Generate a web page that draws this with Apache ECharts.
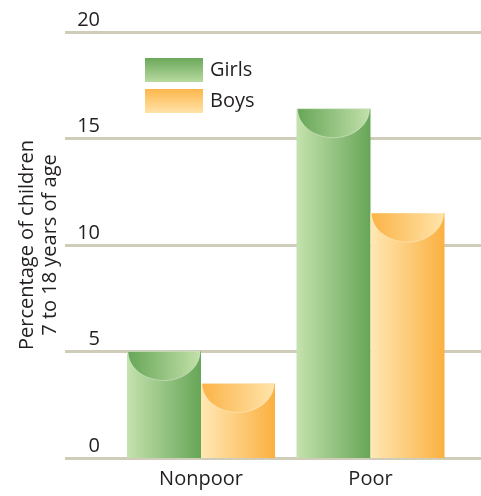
<!DOCTYPE html>
<html>
<head>
<meta charset="utf-8">
<script src="https://cdn.jsdelivr.net/npm/echarts@6/dist/echarts.min.js"></script>
<style>html,body{margin:0;padding:0;background:#fff}#c{width:481px;height:496px}</style>
</head>
<body>
<div id="c"></div>
<script>
const categories = ['Nonpoor', 'Poor'];
const girls = [5.0, 16.4];
const boys = [3.5, 11.5];
const yTicks = [0, 5, 10, 15, 20];
const yTitle = 'Percentage of children\n7 to 18 years of age';

const FONT = 'Open Sans';
const FS = 20;
const TXT = '#231f20';
const BARW = 74;

function hGrad(a, b) {
  return new echarts.graphic.LinearGradient(0, 0, 1, 0, [{offset: 0, color: a}, {offset: 1, color: b}]);
}
function vGrad(a, b) {
  return new echarts.graphic.LinearGradient(0, 0, 0, 1, [{offset: 0, color: a}, {offset: 1, color: b}]);
}

function capRenderer(offset, cL, cR) {
  return function (params, api) {
    const top = api.coord([api.value(0), api.value(1)]);
    const cx = top[0] + offset;
    const rx = BARW / 2 - 1;
    const ry = 29;
    const pts = [];
    for (let i = 0; i <= 40; i++) {
      const t = Math.PI * i / 40;
      pts.push([cx + rx * Math.cos(t), top[1] + ry * Math.sin(t)]);
    }
    return {
      type: 'polygon',
      shape: {points: pts},
      style: {fill: hGrad(cL, cR), stroke: 'rgba(255,255,255,0.35)', lineWidth: 1}
    };
  };
}

const chart = echarts.init(document.getElementById('c'), null, {renderer: 'canvas'});
chart.setOption({
  animation: false,
  backgroundColor: '#fff',
  textStyle: {fontFamily: FONT},
  legend: {
    left: 140, top: 53, orient: 'vertical',
    itemWidth: 58, itemHeight: 24, itemGap: 7,
    icon: 'rect',
    textStyle: {fontFamily: FONT, fontSize: FS, color: TXT, padding: [0, 0, 0, 2]},
    data: [
      {name: 'Girls', itemStyle: {color: vGrad('#6aa85a', '#b8daa0')}},
      {name: 'Boys', itemStyle: {color: vGrad('#fdb64c', '#ffe3a8')}}
    ]
  },
  grid: [
    {left: 65, right: 0, top: 32, bottom: 38},
    {left: 116.25, right: 25.75, top: 32, bottom: 38}
  ],
  xAxis: [
    {gridIndex: 0, type: 'category', data: categories, show: false},
    {
      gridIndex: 1, type: 'category', data: categories,
      axisLine: {show: false}, axisTick: {show: false},
      axisLabel: {fontFamily: FONT, fontSize: FS, color: TXT, margin: 11}
    }
  ],
  yAxis: [
    {
      gridIndex: 0, type: 'value', min: yTicks[0], max: yTicks[yTicks.length - 1], interval: 5,
      axisLine: {show: false}, axisTick: {show: false},
      splitLine: {show: true, lineStyle: {color: '#cfcdba', width: 3}},
      axisLabel: {
        inside: true, margin: 35, align: 'right', verticalAlign: 'bottom',
        fontFamily: FONT, fontSize: FS, color: TXT, padding: [0, 0, 2, 0]
      },
      name: yTitle, nameLocation: 'middle', nameRotate: 90, nameGap: 3, nameMoveOverlap: false,
      nameTextStyle: {fontFamily: FONT, fontSize: FS, color: TXT, lineHeight: 23, align: 'center'}
    },
    {gridIndex: 1, type: 'value', min: yTicks[0], max: yTicks[yTicks.length - 1], interval: 5, show: false, splitLine: {show: false}}
  ],
  series: [
    {
      name: 'Girls', type: 'bar', xAxisIndex: 1, yAxisIndex: 1, data: girls,
      barWidth: BARW, barGap: '0%', z: 2,
      itemStyle: {color: hGrad('#c5e2ae', '#66a657')}
    },
    {
      name: 'Boys', type: 'bar', xAxisIndex: 1, yAxisIndex: 1, data: boys,
      barWidth: BARW, barGap: '0%', z: 2,
      itemStyle: {color: hGrad('#ffe8b5', '#fbb040')}
    },
    {
      name: 'capGirls', type: 'custom', xAxisIndex: 1, yAxisIndex: 1, z: 5,
      data: girls.map((v, i) => [i, v]),
      renderItem: capRenderer(-BARW / 2, '#66a657', '#c2e0aa')
    },
    {
      name: 'capBoys', type: 'custom', xAxisIndex: 1, yAxisIndex: 1, z: 5,
      data: boys.map((v, i) => [i, v]),
      renderItem: capRenderer(BARW / 2, '#fbb347', '#ffe4aa')
    }
  ]
});
</script>
</body>
</html>
